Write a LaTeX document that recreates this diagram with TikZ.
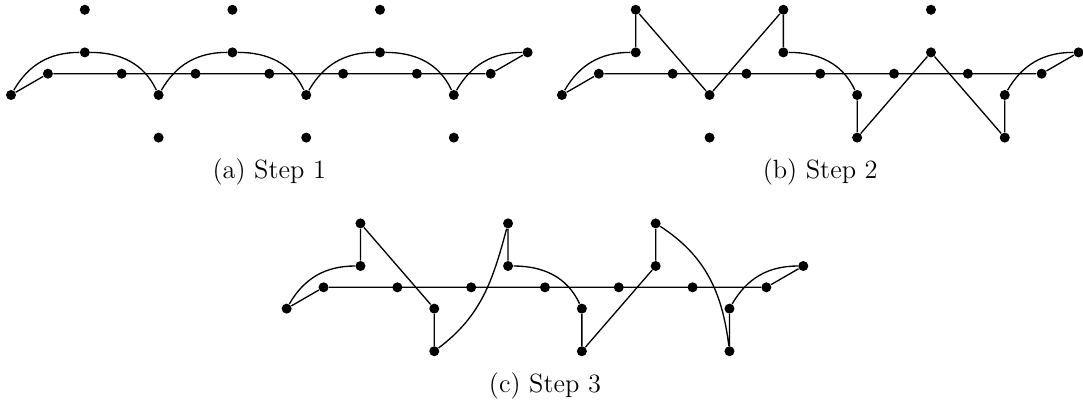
\documentclass[tikz,border=0pt]{standalone}
\usepackage{tikz}

\begin{document}
\begin{tikzpicture}[
    x=0.5895cm, y=0.5895cm,
    every node/.style={font=\large},
    dot/.style={circle, fill, inner sep=0pt, minimum size=1.6mm},
    edge/.style={line width=0.6pt},
    rise/.style={out=60, in=180},
    fall/.style={out=0, in=115}
]
\useasboundingbox (-0.298,1.997) rectangle (29.05,-8.924);

% Dots of the three steps
\foreach \p/\n/\sx/\sy in {a/1/0/0, b/2/14.93/0, c/3/7.47/-5.789} {
  \begin{scope}[shift={(\sx,\sy)}]
    \foreach \i in {0,...,6} \node[dot] (\p-m\i) at (2*\i+1,0) {};
    \foreach \i in {0,...,3} \node[dot] (\p-l\i) at (4*\i,-0.5774) {};
    \foreach \i in {0,...,3} \node[dot] (\p-u\i) at (4*\i+2,0.5774) {};
    \foreach \i in {0,...,2} \node[dot] (\p-t\i) at (4*\i+2,1.7321) {};
    \foreach \i in {0,...,2} \node[dot] (\p-b\i) at (4*\i+4,-1.7321) {};
    \node (\p-cap) at (7,-2.66) {(\p) Step \n};
    \draw[edge] (\p-l0) -- (\p-m0) -- (\p-m6) -- (\p-u3);
  \end{scope}
}

% Step 1
\draw[edge] (a-l0) to[rise] (a-u0) to[fall] (a-l1) to[rise] (a-u1) to[fall] (a-l2)
  to[rise] (a-u2) to[fall] (a-l3) to[rise] (a-u3);

% Step 2
\draw[edge] (b-l0) to[rise] (b-u0) -- (b-t0) -- (b-l1) -- (b-t1) -- (b-u1) to[fall] (b-l2)
  -- (b-b1) -- (b-u2) -- (b-b2) -- (b-l3) to[rise] (b-u3);

% Step 3
\draw[edge] (c-l0) to[rise] (c-u0) -- (c-t0) -- (c-l1) -- (c-b0) to[out=37, in=-105] (c-t1)
  -- (c-u1) to[fall] (c-l2) -- (c-b1) -- (c-u2) -- (c-t2) to[out=-33, in=97] (c-b2)
  -- (c-l3) to[rise] (c-u3);

\end{tikzpicture}
\end{document}
